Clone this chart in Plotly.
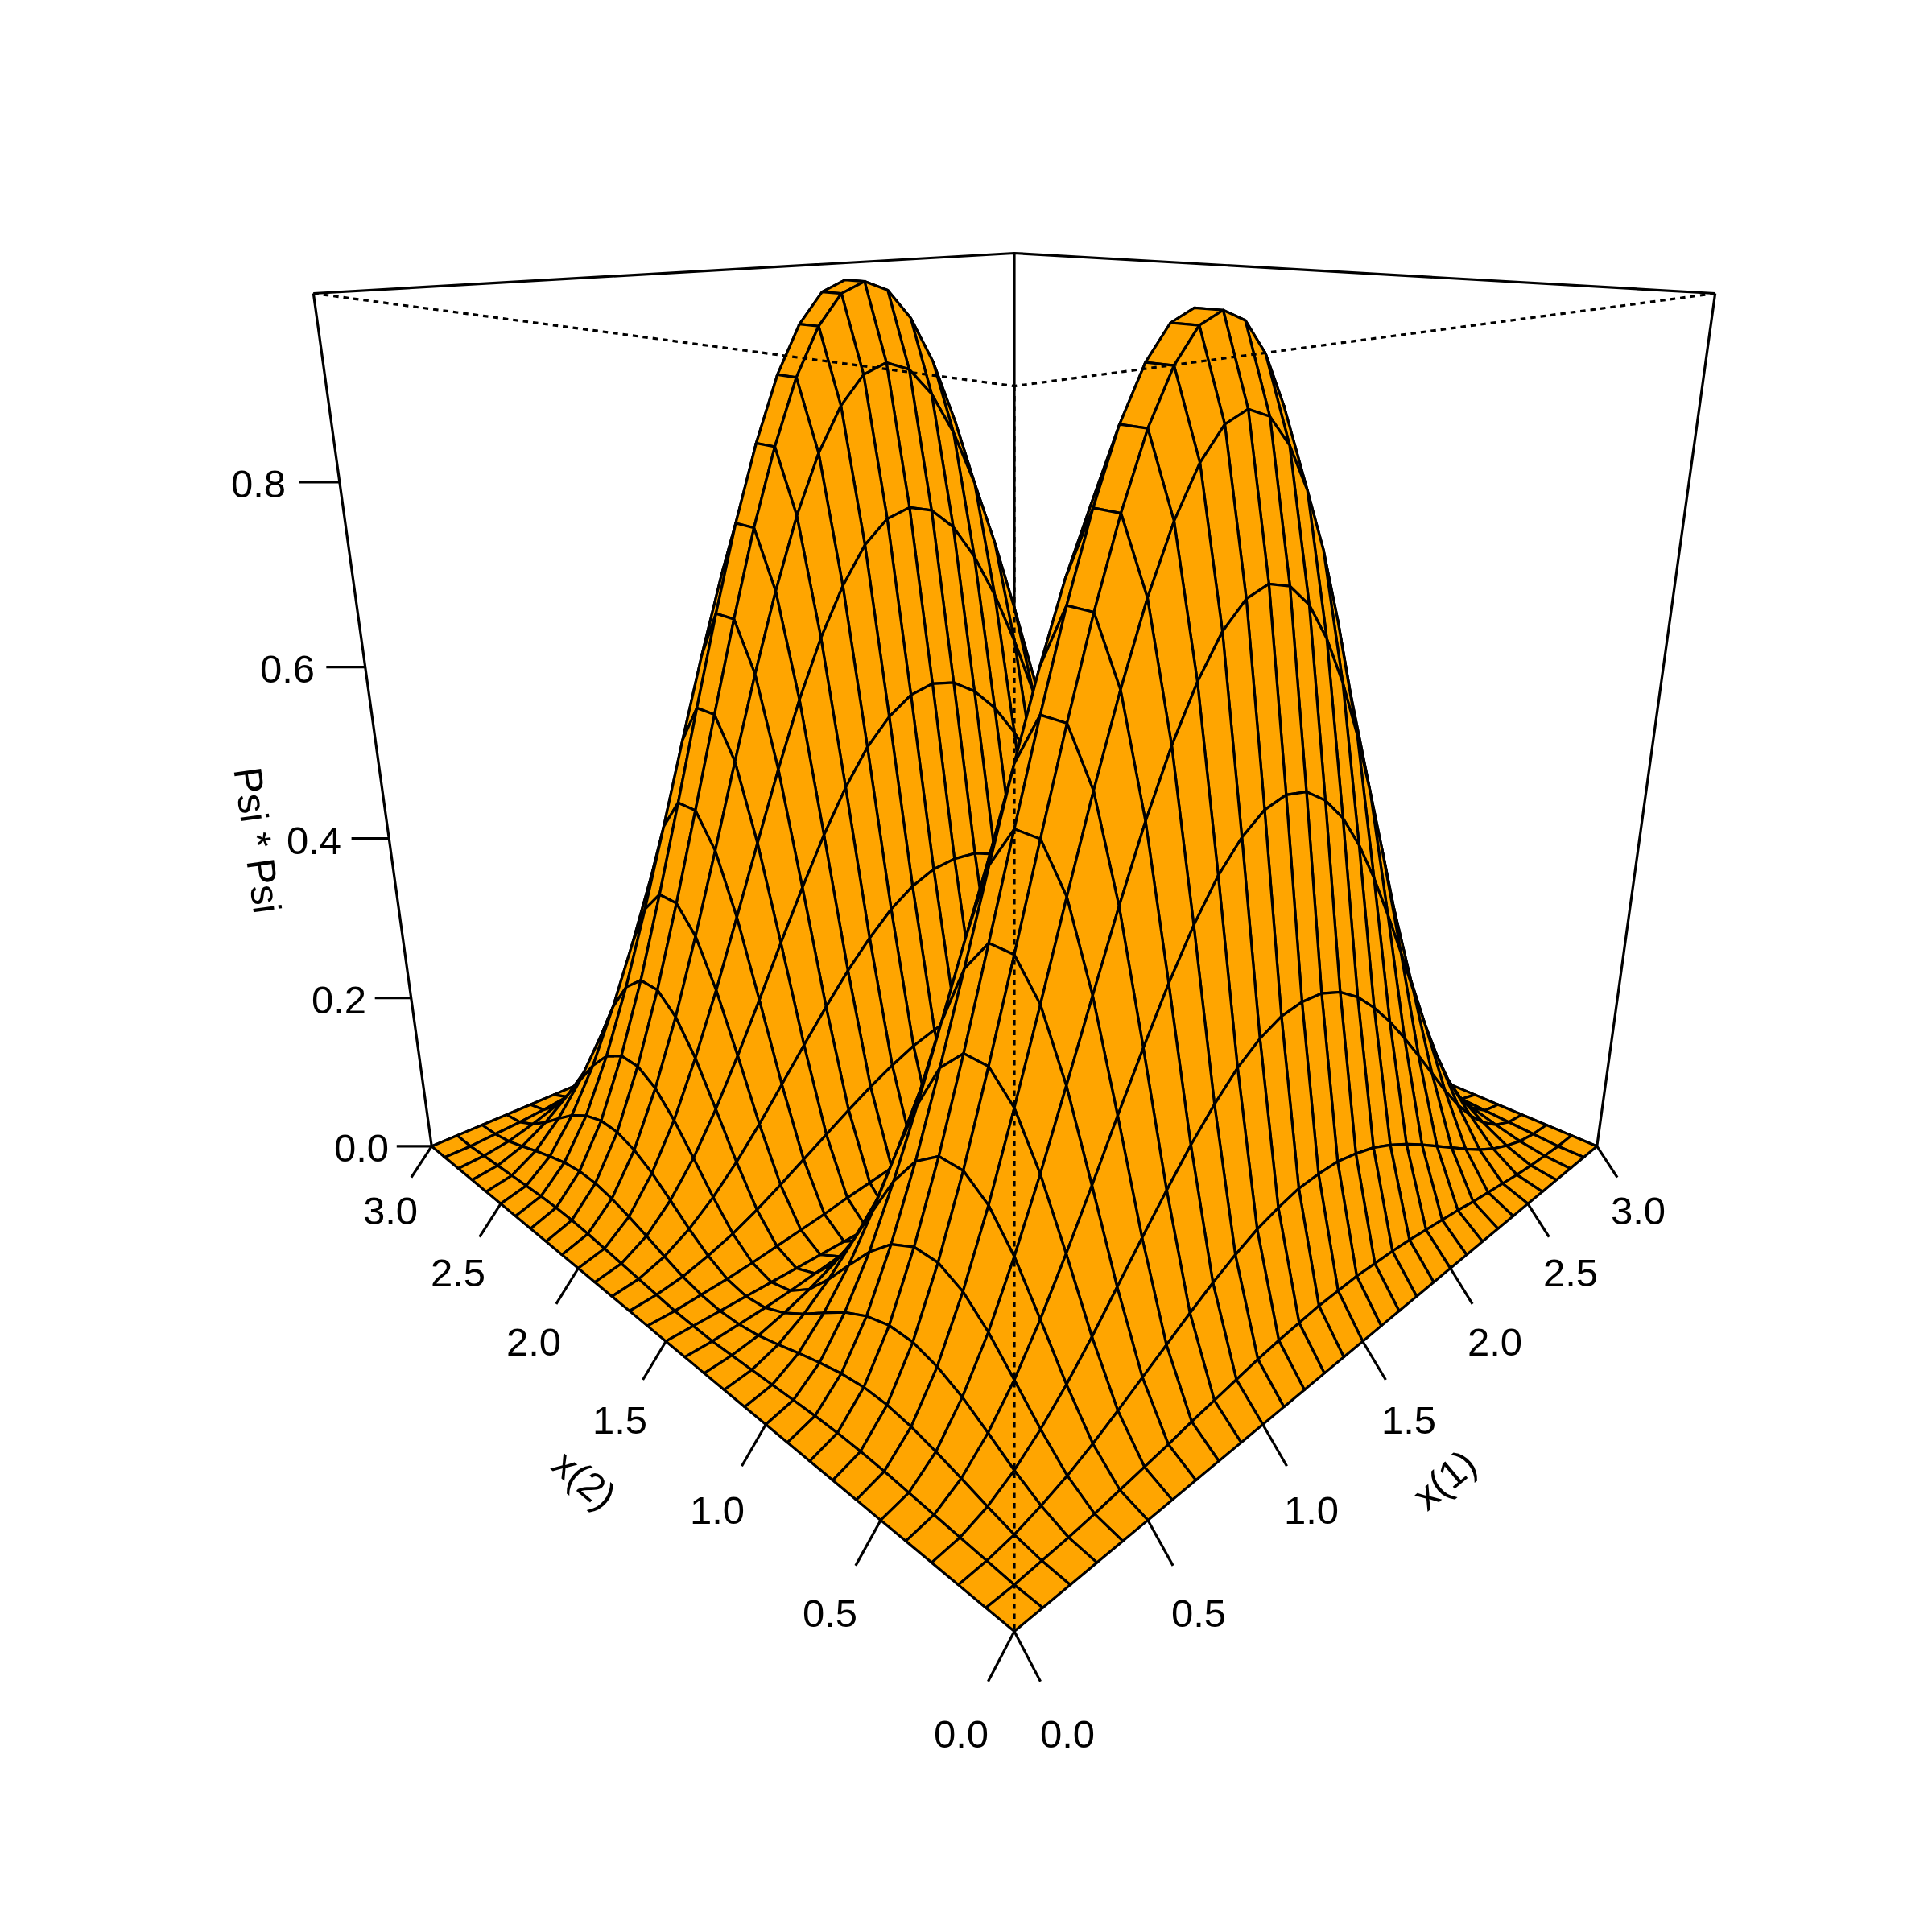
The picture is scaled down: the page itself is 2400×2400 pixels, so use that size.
import math
import numpy as np
import plotly.graph_objects as go

X1_GRID = [0.0,0.1,0.2,0.3,0.4,0.5,0.6,0.7,0.8,0.9,1.0,1.1,1.2,1.3,1.4,1.5,1.6,1.7,1.8,1.9,2.0,2.1,2.2,2.3,2.4,2.5,2.6,2.7,2.8,2.9,3.0]
X2_GRID = [0.0,0.1,0.2,0.3,0.4,0.5,0.6,0.7,0.8,0.9,1.0,1.1,1.2,1.3,1.4,1.5,1.6,1.7,1.8,1.9,2.0,2.1,2.2,2.3,2.4,2.5,2.6,2.7,2.8,2.9,3.0]
X_TICKS = [0.0, 0.5, 1.0, 1.5, 2.0, 2.5, 3.0]
Z_TICKS = [0.0, 0.2, 0.4, 0.6, 0.8]
X1_TITLE = "x(1)"
X2_TITLE = "x(2)"
Z_TITLE = "Psi * Psi"

# Psi*Psi height, one row per x(1) value, one column per x(2) value
PSI2 = [
[0,0,0,0,0,0,0,0,0,0,0,0,0,0,0,0,0,0,0,0,0,0,0,0,0,0,0,0,0,0,0],
[0,.000,.002,.004,.006,.008,.010,.011,.011,.010,.008,.006,.004,.002,.000,0,.000,.002,.004,.006,.008,.010,.011,.011,.010,.008,.006,.004,.002,.000,0],
[0,.002,.007,.015,.024,.032,.039,.043,.043,.039,.032,.024,.015,.007,.002,0,.002,.007,.015,.024,.032,.039,.043,.043,.039,.032,.024,.015,.007,.002,0],
[0,.004,.016,.033,.053,.072,.086,.094,.094,.086,.072,.053,.033,.016,.004,0,.004,.016,.033,.053,.072,.086,.094,.094,.086,.072,.053,.033,.016,.004,0],
[0,.007,.027,.057,.091,.124,.150,.164,.164,.150,.124,.091,.057,.027,.007,0,.007,.027,.057,.091,.124,.150,.164,.164,.150,.124,.091,.057,.027,.007,0],
[0,.011,.041,.086,.138,.188,.226,.247,.247,.226,.188,.138,.086,.041,.011,0,.011,.041,.086,.138,.188,.226,.247,.247,.226,.188,.138,.086,.041,.011,0],
[0,.015,.057,.119,.191,.259,.313,.342,.342,.313,.259,.191,.119,.057,.015,0,.015,.057,.119,.191,.259,.313,.342,.342,.313,.259,.191,.119,.057,.015,0],
[0,.019,.074,.155,.247,.336,.405,.443,.443,.405,.336,.247,.155,.074,.019,0,.019,.074,.155,.247,.336,.405,.443,.443,.405,.336,.247,.155,.074,.019,0],
[0,.024,.091,.191,.305,.414,.500,.546,.546,.500,.414,.305,.191,.091,.024,0,.024,.091,.191,.305,.414,.500,.546,.546,.500,.414,.305,.191,.091,.024,0],
[0,.028,.108,.226,.361,.491,.592,.647,.647,.592,.491,.361,.226,.108,.028,0,.028,.108,.226,.361,.491,.592,.647,.647,.592,.491,.361,.226,.108,.028,0],
[0,.032,.124,.259,.414,.563,.678,.742,.742,.678,.563,.414,.259,.124,.032,0,.032,.124,.259,.414,.563,.678,.742,.742,.678,.563,.414,.259,.124,.032,0],
[0,.036,.138,.288,.461,.626,.755,.825,.825,.755,.626,.461,.288,.138,.036,0,.036,.138,.288,.461,.626,.755,.825,.825,.755,.626,.461,.288,.138,.036,0],
[0,.039,.150,.313,.500,.678,.818,.895,.895,.818,.678,.500,.313,.150,.039,0,.039,.150,.313,.500,.678,.818,.895,.895,.818,.678,.500,.313,.150,.039,0],
[0,.041,.158,.331,.528,.718,.865,.946,.946,.865,.718,.528,.331,.158,.041,0,.041,.158,.331,.528,.718,.865,.946,.946,.865,.718,.528,.331,.158,.041,0],
[0,.043,.164,.342,.546,.742,.895,.978,.978,.895,.742,.546,.342,.164,.043,0,.043,.164,.342,.546,.742,.895,.978,.978,.895,.742,.546,.342,.164,.043,0],
[0,.043,.165,.345,.552,.750,.905,.989,.989,.905,.750,.552,.345,.165,.043,0,.043,.165,.345,.552,.750,.905,.989,.989,.905,.750,.552,.345,.165,.043,0],
[0,.043,.164,.342,.546,.742,.895,.978,.978,.895,.742,.546,.342,.164,.043,0,.043,.164,.342,.546,.742,.895,.978,.978,.895,.742,.546,.342,.164,.043,0],
[0,.041,.158,.331,.528,.718,.865,.946,.946,.865,.718,.528,.331,.158,.041,0,.041,.158,.331,.528,.718,.865,.946,.946,.865,.718,.528,.331,.158,.041,0],
[0,.039,.150,.313,.500,.678,.818,.895,.895,.818,.678,.500,.313,.150,.039,0,.039,.150,.313,.500,.678,.818,.895,.895,.818,.678,.500,.313,.150,.039,0],
[0,.036,.138,.288,.461,.626,.755,.825,.825,.755,.626,.461,.288,.138,.036,0,.036,.138,.288,.461,.626,.755,.825,.825,.755,.626,.461,.288,.138,.036,0],
[0,.032,.124,.259,.414,.563,.678,.742,.742,.678,.563,.414,.259,.124,.032,0,.032,.124,.259,.414,.563,.678,.742,.742,.678,.563,.414,.259,.124,.032,0],
[0,.028,.108,.226,.361,.491,.592,.647,.647,.592,.491,.361,.226,.108,.028,0,.028,.108,.226,.361,.491,.592,.647,.647,.592,.491,.361,.226,.108,.028,0],
[0,.024,.091,.191,.305,.414,.500,.546,.546,.500,.414,.305,.191,.091,.024,0,.024,.091,.191,.305,.414,.500,.546,.546,.500,.414,.305,.191,.091,.024,0],
[0,.019,.074,.155,.247,.336,.405,.443,.443,.405,.336,.247,.155,.074,.019,0,.019,.074,.155,.247,.336,.405,.443,.443,.405,.336,.247,.155,.074,.019,0],
[0,.015,.057,.119,.191,.259,.313,.342,.342,.313,.259,.191,.119,.057,.015,0,.015,.057,.119,.191,.259,.313,.342,.342,.313,.259,.191,.119,.057,.015,0],
[0,.011,.041,.086,.138,.188,.226,.247,.247,.226,.188,.138,.086,.041,.011,0,.011,.041,.086,.138,.188,.226,.247,.247,.226,.188,.138,.086,.041,.011,0],
[0,.007,.027,.057,.091,.124,.150,.164,.164,.150,.124,.091,.057,.027,.007,0,.007,.027,.057,.091,.124,.150,.164,.164,.150,.124,.091,.057,.027,.007,0],
[0,.004,.016,.033,.053,.072,.086,.094,.094,.086,.072,.053,.033,.016,.004,0,.004,.016,.033,.053,.072,.086,.094,.094,.086,.072,.053,.033,.016,.004,0],
[0,.002,.007,.015,.024,.032,.039,.043,.043,.039,.032,.024,.015,.007,.002,0,.002,.007,.015,.024,.032,.039,.043,.043,.039,.032,.024,.015,.007,.002,0],
[0,.000,.002,.004,.006,.008,.010,.011,.011,.010,.008,.006,.004,.002,.000,0,.000,.002,.004,.006,.008,.010,.011,.011,.010,.008,.006,.004,.002,.000,0],
[0,0,0,0,0,0,0,0,0,0,0,0,0,0,0,0,0,0,0,0,0,0,0,0,0,0,0,0,0,0,0],
]

# view of the box: persp-style camera
PHI = math.radians(20.0)
EYE = 3.713
SCALE = 2075.3
CX, CY, SIZE = 1252.0, 935.0, 2400.0
TICK = 0.06
LABEL = 0.12
TITLE_XY = 0.21
TITLE_Z = 0.21
Z_TITLE_AT = 0.4
ORANGE = "#FFA500"
LW = 3.2
FONT = dict(family="Liberation Sans", size=49, color="black")

xlo, xhi = X1_GRID[0], X1_GRID[-1]
ylo, yhi = X2_GRID[0], X2_GRID[-1]
Z = np.array(PSI2, dtype=float)
zlo, zhi = Z.min(), Z.max()
cp, sp = math.cos(PHI), math.sin(PHI)


def nx(v):
    return 2 * (v - xlo) / (xhi - xlo) - 1


def ny(v):
    return 2 * (v - ylo) / (yhi - ylo) - 1


def nz(v):
    return 2 * (v - zlo) / (zhi - zlo) - 1


def proj(a, b, c):
    """a, b, c are box coordinates in -1..1."""
    u = (a - b) / math.sqrt(2)
    v = -(a + b) / math.sqrt(2)
    up = c * cp - v * sp
    d = c * sp + v * cp
    w = EYE - d
    return u / w, up / w


fig = go.Figure()


def line(points, dash=None, width=LW):
    xy = [proj(*p) for p in points]
    fig.add_trace(go.Scatter(x=[p[0] for p in xy], y=[p[1] for p in xy], mode="lines",
                             line=dict(color="black", width=width, dash=dash),
                             hoverinfo="skip", showlegend=False))


# back of the box, behind the surface
line([(-1, 1, 1), (1, 1, 1), (1, -1, 1)])
line([(1, 1, 1), (1, 1, -1)])
line([(-1, 1, 1), (-1, 1, -1), (1, 1, -1), (1, -1, -1), (1, -1, 1)])

# surface cells, far to near
cells = [(i, j) for i in range(len(X1_GRID) - 1) for j in range(len(X2_GRID) - 1)]
cells.sort(key=lambda c: -(c[0] + c[1]))
for i, j in cells:
    corners = [(i, j), (i + 1, j), (i + 1, j + 1), (i, j + 1), (i, j)]
    xy = [proj(nx(X1_GRID[a]), ny(X2_GRID[b]), nz(Z[a, b])) for a, b in corners]
    fig.add_trace(go.Scatter(x=[p[0] for p in xy], y=[p[1] for p in xy], mode="lines",
                             fill="toself", fillcolor=ORANGE,
                             line=dict(color="black", width=LW),
                             hoverinfo="skip", showlegend=False))

# front of the box, dotted over the surface
DOT = "6.5px,6px"
line([(-1, 1, 1), (-1, -1, 1), (1, -1, 1)], dash=DOT)
line([(-1, -1, 1), (-1, -1, -1)], dash=DOT)


annotations = []


def text(point, label, angle=0):
    px, py = proj(*point)
    annotations.append(dict(x=px, y=py, xref="x", yref="y", text=label, showarrow=False,
                            xanchor="center", yanchor="middle", textangle=angle, font=FONT,
                            yshift=-2))


# x(1) axis along the x(2)=low edge, x(2) axis along the x(1)=low edge
for t in X_TICKS:
    a = nx(t)
    line([(a, -1, -1), (a, -1 - TICK, -1 - TICK)])
    text((a, -1 - LABEL, -1 - LABEL), f"{t:.1f}")
    b = ny(t)
    line([(-1, b, -1), (-1 - TICK, b, -1 - TICK)])
    text((-1 - LABEL, b, -1 - LABEL), f"{t:.1f}")
for t in Z_TICKS:
    c = nz(t)
    line([(-1, 1, c), (-1 - TICK, 1 + TICK, c)])
    text((-1 - LABEL, 1 + LABEL, c), f"{t:.1f}")

text((0, -1 - TITLE_XY, -1 - TITLE_XY), X1_TITLE, -40)
text((-1 - TITLE_XY, 0, -1 - TITLE_XY), X2_TITLE, 40)
text((-1 - TITLE_Z, 1 + TITLE_Z, nz(Z_TITLE_AT)), Z_TITLE, 82)

fig.update_layout(
    width=2400, height=2400, margin=dict(l=0, r=0, t=0, b=0),
    paper_bgcolor="white", plot_bgcolor="white", showlegend=False,
    xaxis=dict(range=[-CX / SCALE, (SIZE - CX) / SCALE], visible=False),
    yaxis=dict(range=[(CY - SIZE) / SCALE, CY / SCALE], visible=False),
    annotations=annotations,
)
fig.write_html("out.html")
